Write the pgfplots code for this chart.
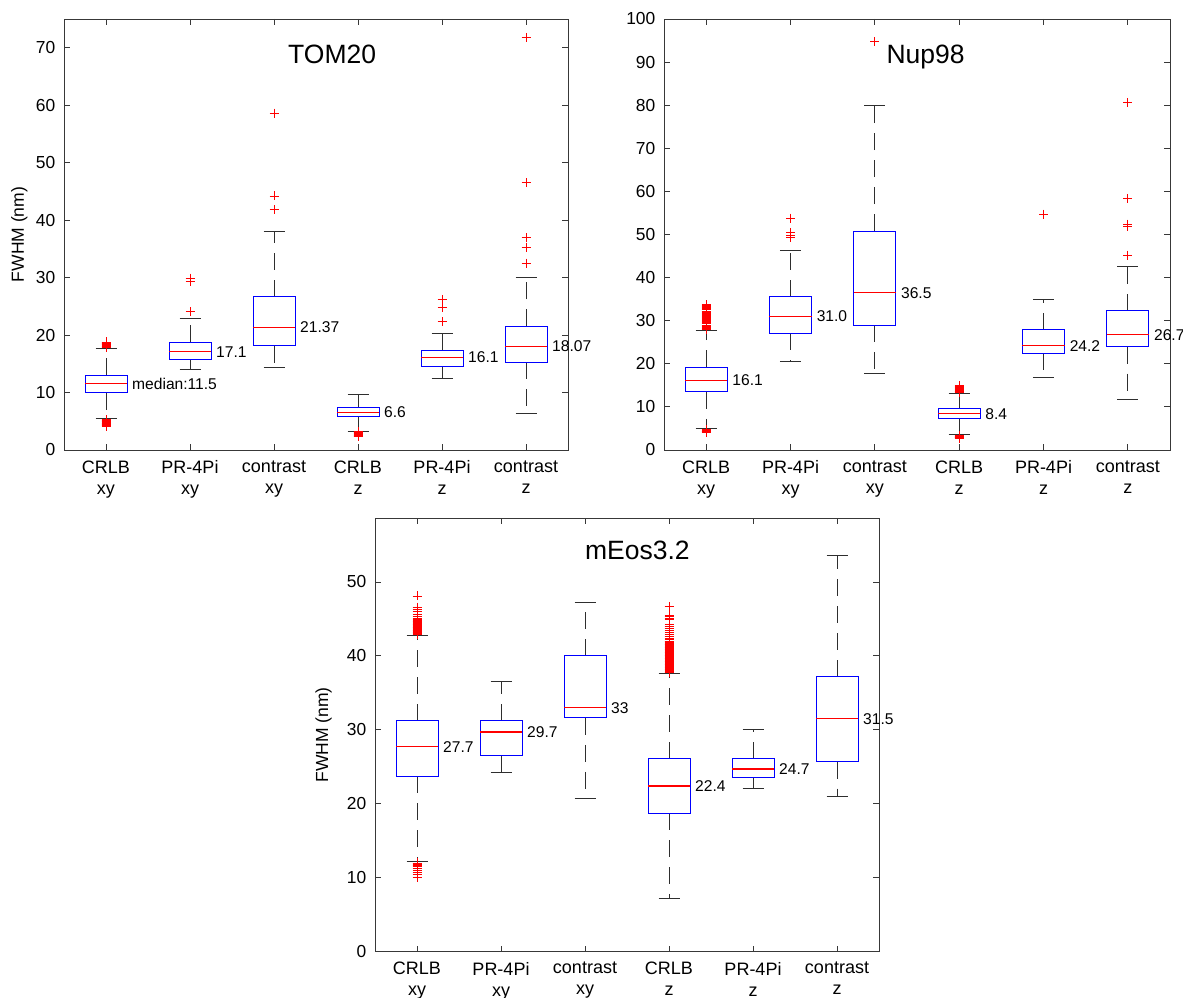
\documentclass[border=0pt]{standalone}
\usepackage{fontspec}
\setmainfont{Liberation Sans}
\usepackage{pgfplots}
\pgfplotsset{compat=1.18}
\usepgfplotslibrary{statistics}

\definecolor{mblue}{rgb}{0,0,1}
\definecolor{mred}{rgb}{1,0,0}

\tikzset{
  medlab/.style={anchor=west, inner sep=0pt, xshift=5pt, font=\fontsize{15.6}{18}\selectfont},
  ttl/.style={anchor=base, font=\fontsize{26.5}{30}\selectfont},
  whisk/.style={black!82, line width=1pt, solid},
}

\pgfplotsset{
  % solid caps, dashed whisker lines (MATLAB look)
  boxplot/draw/lower whisker/.code={%
    \draw[whisk]
      (boxplot whisker cs:\pgfkeysvalueof{/pgfplots/boxplot/lower whisker},0) --
      (boxplot whisker cs:\pgfkeysvalueof{/pgfplots/boxplot/lower whisker},1);
    \draw[whisk, dash pattern=on 17pt off 10pt]
      (boxplot cs:\pgfkeysvalueof{/pgfplots/boxplot/lower quartile}) --
      (boxplot cs:\pgfkeysvalueof{/pgfplots/boxplot/lower whisker});
  },
  boxplot/draw/upper whisker/.code={%
    \draw[whisk]
      (boxplot whisker cs:\pgfkeysvalueof{/pgfplots/boxplot/upper whisker},0) --
      (boxplot whisker cs:\pgfkeysvalueof{/pgfplots/boxplot/upper whisker},1);
    \draw[whisk, dash pattern=on 17pt off 10pt]
      (boxplot cs:\pgfkeysvalueof{/pgfplots/boxplot/upper quartile}) --
      (boxplot cs:\pgfkeysvalueof{/pgfplots/boxplot/upper whisker});
  },
  boxplot/draw/median/.code={%
    \draw[mred, line width=1.1pt]
      (boxplot box cs:\pgfkeysvalueof{/pgfplots/boxplot/median},0) --
      (boxplot box cs:\pgfkeysvalueof{/pgfplots/boxplot/median},1);
  },
  bp/.style n args={6}{
    boxplot prepared={draw position=#1, lower whisker=#2, lower quartile=#3,
      median=#4, upper quartile=#5, upper whisker=#6,
      box extend=0.5, whisker extend=0.25},
    boxplot/draw direction=y,
    mark=+, mark size=4.5pt,
    mark options={draw=mred, line width=0.9pt, solid},
  },
  fwhm/.style={
    scale only axis,
    xmin=0.5, xmax=6.5, ymin=0,
    clip=false,
    axis line style={black!78, line width=0.8pt},
    every tick/.style={black!78, line width=0.8pt},
    tick align=inside,
    major tick length=6pt,
    xtick={1,2,3,4,5,6},
    xticklabels={{CRLB\\xy},{PR-4Pi\\xy},{contrast\\xy},{CRLB\\z},{PR-4Pi\\z},{contrast\\z}},
    xticklabel style={align=center, font=\fontsize{18}{21}\selectfont, inner sep=0pt, yshift=-10.4pt},
    yticklabel style={font=\fontsize{17.4}{20}\selectfont, inner sep=0pt, xshift=-8.5pt},
    /pgf/number format/assume math mode=true,
    ylabel={FWHM (nm)},
    boxplot/every box/.style={draw=mblue, line width=1pt},
  },
}

\begin{document}
\begin{tikzpicture}
\useasboundingbox (0,0) rectangle (1183pt,997pt);

% ---------------- TOM20 ----------------
\begin{axis}[fwhm, at={(64pt,547pt)}, anchor=south west,
  width=504pt, height=431pt, ymax=75, ytick={0,10,...,70},
  every axis y label/.style={at={(axis description cs:-0.0887,0.5)}, rotate=90, anchor=center,
    font=\fontsize{17.5}{20}\selectfont}]
\addplot[bp={1}{5.4}{10.0}{11.5}{13.05}{17.6}] table[row sep=\\,y index=0]
  {y\\ 17.8\\ 17.9\\ 18.0\\ 18.1\\ 18.2\\ 18.3\\ 18.4\\ 18.5\\ 18.6\\ 18.7\\ 18.8\\
   4.1\\ 4.2\\ 4.3\\ 4.4\\ 4.5\\ 4.6\\ 4.7\\ 4.8\\ 4.9\\ 5.0\\ 5.1\\ 5.2\\ 5.3\\};
\addplot[bp={2}{14.0}{15.7}{17.1}{18.77}{22.8}] table[row sep=\\,y index=0]
  {y\\ 24.1\\ 29.3\\ 29.9\\};
\addplot[bp={3}{14.3}{18.1}{21.37}{26.7}{38.1}] table[row sep=\\,y index=0]
  {y\\ 41.8\\ 44.2\\ 58.6\\};
\addplot[bp={4}{3.3}{5.8}{6.6}{7.4}{9.65}] table[row sep=\\,y index=0]
  {y\\ 2.3\\ 2.4\\ 2.5\\ 2.6\\ 2.7\\ 2.8\\ 2.9\\ 3.0\\ 3.1\\ 3.2\\};
\addplot[bp={5}{12.5}{14.6}{16.1}{17.3}{20.2}] table[row sep=\\,y index=0]
  {y\\ 22.3\\ 24.8\\ 26.2\\};
\addplot[bp={6}{6.4}{15.3}{18.07}{21.5}{30.1}] table[row sep=\\,y index=0]
  {y\\ 32.5\\ 35.3\\ 36.9\\ 46.5\\ 71.8\\};
\node[medlab] at (axis cs:1.25,11.5) {median:11.5};
\node[medlab] at (axis cs:2.25,17.1) {17.1};
\node[medlab] at (axis cs:3.25,21.37) {21.37};
\node[medlab] at (axis cs:4.25,6.6) {6.6};
\node[medlab] at (axis cs:5.25,16.1) {16.1};
\node[medlab] at (axis cs:6.25,18.07) {18.07};
\node[ttl] at (rel axis cs:0.532,0.8956) {TOM20};
\end{axis}

% ---------------- Nup98 ----------------
\begin{axis}[fwhm, at={(664pt,547pt)}, anchor=south west,
  width=506pt, height=431pt, ymax=100, ytick={0,10,...,100}, ylabel={}]
\addplot[bp={1}{4.95}{13.5}{16.1}{19.2}{27.8}] table[row sep=\\,y index=0]
  {y\\ 28.0\\ 28.25\\ 28.5\\ 28.75\\ 29.0\\ 29.25\\ 29.5\\ 29.75\\ 30.0\\ 30.25\\ 30.5\\ 30.75\\
   31.0\\ 31.25\\ 31.5\\ 31.75\\ 32.0\\ 32.25\\ 32.5\\ 32.75\\ 33.0\\ 33.25\\ 33.5\\ 33.75\\
   4.0\\ 4.2\\ 4.4\\ 4.6\\ 4.8\\};
\addplot[bp={2}{20.6}{27.1}{31.0}{35.6}{46.4}] table[row sep=\\,y index=0]
  {y\\ 49.3\\ 49.7\\ 50.4\\ 53.8\\};
\addplot[bp={3}{17.7}{29.0}{36.5}{50.8}{80.0}] table[row sep=\\,y index=0]
  {y\\ 94.7\\};
\addplot[bp={4}{3.5}{7.2}{8.4}{9.6}{13.15}] table[row sep=\\,y index=0]
  {y\\ 13.3\\ 13.5\\ 13.7\\ 13.9\\ 14.1\\ 14.3\\ 14.5\\ 14.7\\ 14.9\\
   2.7\\ 2.8\\ 2.9\\ 3.0\\ 3.1\\ 3.2\\ 3.3\\};
\addplot[bp={5}{16.9}{22.4}{24.2}{27.9}{35.0}] table[row sep=\\,y index=0]
  {y\\ 54.7\\};
\addplot[bp={6}{11.8}{24.0}{26.7}{32.3}{42.5}] table[row sep=\\,y index=0]
  {y\\ 45.2\\ 51.9\\ 52.4\\ 58.4\\ 80.6\\};
\node[medlab] at (axis cs:1.25,16.1) {16.1};
\node[medlab] at (axis cs:2.25,31.0) {31.0};
\node[medlab] at (axis cs:3.25,36.5) {36.5};
\node[medlab] at (axis cs:4.25,8.4) {8.4};
\node[medlab] at (axis cs:5.25,24.2) {24.2};
\node[medlab] at (axis cs:6.25,26.7) {26.7};
\node[ttl] at (rel axis cs:0.517,0.8956) {Nup98};
\end{axis}

% ---------------- mEos3.2 ----------------
\begin{axis}[fwhm, at={(375pt,45.3pt)}, anchor=south west,
  width=504pt, height=433.4pt, ymax=58.6, ytick={0,10,...,50},
  every axis y label/.style={at={(axis description cs:-0.1018,0.5)}, rotate=90, anchor=center,
    font=\fontsize{17.5}{20}\selectfont}]
\addplot[bp={1}{12.2}{23.7}{27.7}{31.2}{42.8}] table[row sep=\\,y index=0]
  {y\\ 42.9\\ 43.0\\ 43.1\\ 43.2\\ 43.3\\ 43.4\\ 43.5\\ 43.6\\ 43.7\\ 43.8\\ 43.9\\ 44.0\\
   44.1\\ 44.2\\ 44.3\\ 44.4\\ 44.5\\ 44.6\\ 44.7\\ 44.8\\ 44.9\\ 45.0\\ 45.3\\ 45.6\\
   46.0\\ 46.3\\ 46.6\\ 48.1\\
   12.0\\ 11.9\\ 11.8\\ 11.7\\ 11.6\\ 11.5\\ 11.3\\ 11.0\\ 10.7\\ 10.4\\ 10.0\\};
\addplot[bp={2}{24.2}{26.5}{29.7}{31.2}{36.5}] coordinates {};
\addplot[bp={3}{20.7}{31.6}{33}{40.0}{47.2}] coordinates {};
\addplot[bp={4}{7.2}{18.7}{22.4}{26.1}{37.6}] table[row sep=\\,y index=0]
  {y\\ 37.7\\ 37.8\\ 37.9\\ 38.0\\ 38.1\\ 38.2\\ 38.3\\ 38.4\\ 38.5\\ 38.6\\ 38.7\\ 38.8\\
   38.9\\ 39.0\\ 39.1\\ 39.2\\ 39.3\\ 39.4\\ 39.5\\ 39.6\\ 39.7\\ 39.8\\ 39.9\\ 40.0\\
   40.1\\ 40.2\\ 40.3\\ 40.4\\ 40.5\\ 40.6\\ 40.7\\ 40.8\\ 40.9\\ 41.0\\ 41.1\\ 41.2\\
   41.3\\ 41.4\\ 41.5\\ 41.6\\ 41.7\\ 41.8\\ 41.9\\ 42.0\\ 42.2\\ 42.4\\ 42.6\\ 42.9\\
   43.2\\ 43.4\\ 43.7\\ 44.0\\ 44.3\\ 44.9\\ 45.1\\ 45.3\\ 45.5\\ 46.7\\};
\addplot[bp={5}{22.0}{23.6}{24.7}{26.1}{30.1}] coordinates {};
\addplot[bp={6}{21.0}{25.7}{31.5}{37.2}{53.6}] coordinates {};
\node[medlab] at (axis cs:1.25,27.7) {27.7};
\node[medlab] at (axis cs:2.25,29.7) {29.7};
\node[medlab] at (axis cs:3.25,33) {33};
\node[medlab] at (axis cs:4.25,22.4) {22.4};
\node[medlab] at (axis cs:5.25,24.7) {24.7};
\node[medlab] at (axis cs:6.25,31.5) {31.5};
\node[ttl] at (rel axis cs:0.5205,0.9038) {mEos3.2};
\end{axis}
\end{tikzpicture}
\end{document}
